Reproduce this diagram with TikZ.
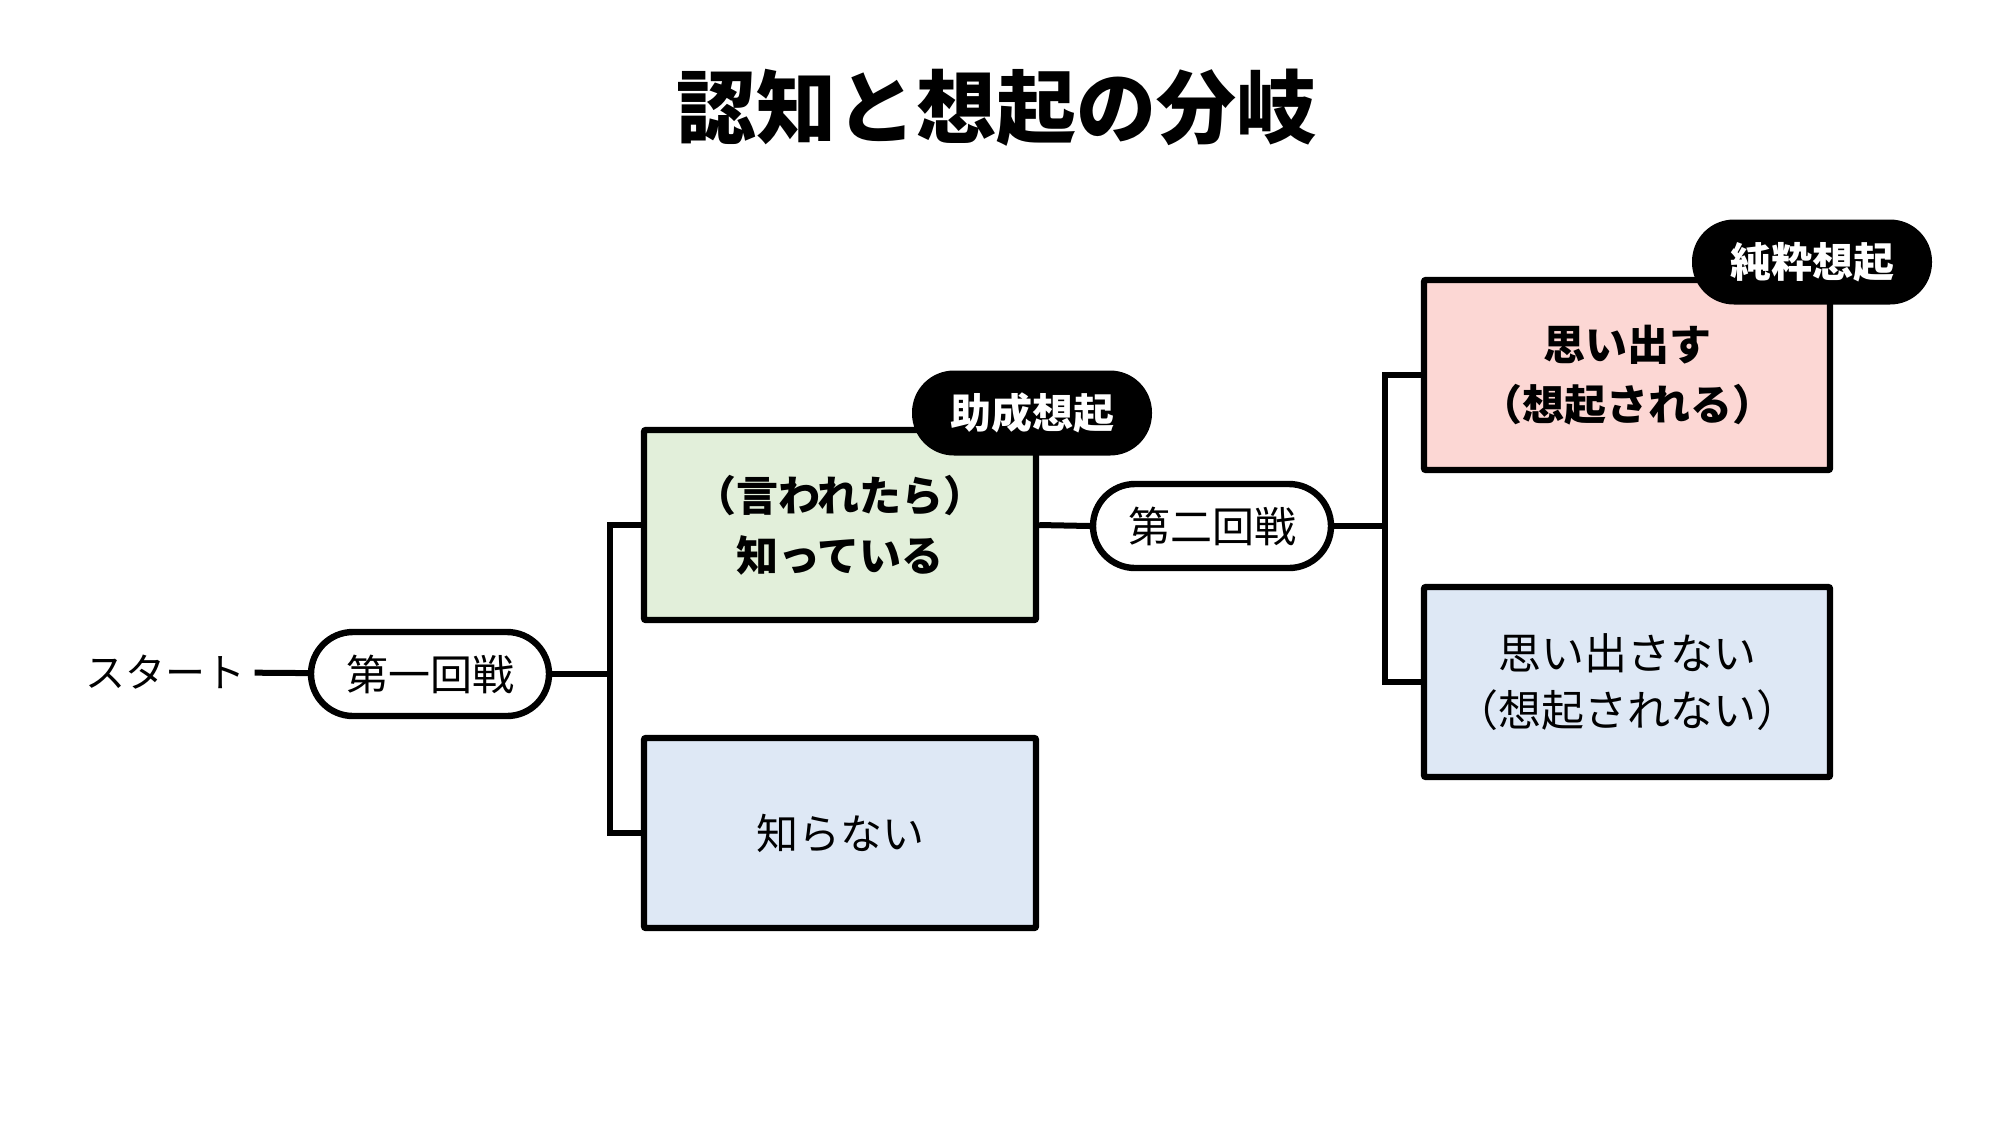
\documentclass[tikz,border=0pt]{standalone}
\usepackage{fontspec}
\setmainfont{Noto Sans CJK JP}

\definecolor{knowgreen}{RGB}{226,239,218}
\definecolor{nogblue}{RGB}{222,232,245}
\definecolor{recallpink}{RGB}{252,215,212}

\tikzset{
  box/.style={draw, line width=3.2pt, rounded corners=1pt, minimum width=196pt, minimum height=95pt, align=center, font=\fontsize{21}{30}\selectfont},
  pill/.style={draw, fill=white, line width=3.2pt, rounded corners=21pt, minimum width=119pt, minimum height=42pt, font=\fontsize{21}{24}\selectfont},
  badge/.style={fill=black, text=white, rounded corners=21pt, minimum width=120pt, minimum height=42.5pt, font=\bfseries\fontsize{20.5}{24}\selectfont},
}

\begin{document}
\begin{tikzpicture}[x=0.5pt,y=-0.5pt,line width=3pt]
\useasboundingbox (0,0) rectangle (1993,1121);

% Title
\node (title) at (996,108) {\bfseries\fontsize{40}{44}\selectfont 認知と想起の分岐};

% Start and first round
\node (start) at (165,672) {\fontsize{20}{24}\selectfont スタート};
\node [pill] (round1) at (430,674) {第一回戦};

% Boxes of the first round
\node [box, fill=knowgreen] (know) at (840,525) {\bfseries （言われたら）\\ \bfseries 知っている};
\node [box, fill=nogblue] (notknow) at (840,833) {知らない};
\node [badge] (cued) at (1032,413) {助成想起};

% Second round
\node [pill] (round2) at (1212,526) {第二回戦};

% Boxes of the second round
\node [box, fill=recallpink, minimum width=203pt] (recall) at (1627,375) {\bfseries 思い出す\\ \bfseries （想起される）};
\node [box, fill=nogblue, minimum width=203pt, font=\fontsize{21.5}{28.5}\selectfont] (norecall) at (1627,682) {思い出さない\\ （想起されない）};
\node [badge] (free) at (1812,262) {純粋想起};

% Branch points
\coordinate (fork1) at (610,674);
\coordinate (fork2) at (1385,526);

% Straight Lines
\draw (start) -- (round1);
\draw (round1) -- (fork1);
\draw (know.west) -| (fork1) |- (notknow.west);
\draw (know.east) -- (round2.west);
\draw (round2) -- (fork2);
\draw (recall.west) -| (fork2) |- (norecall.west);

\end{tikzpicture}
\end{document}
